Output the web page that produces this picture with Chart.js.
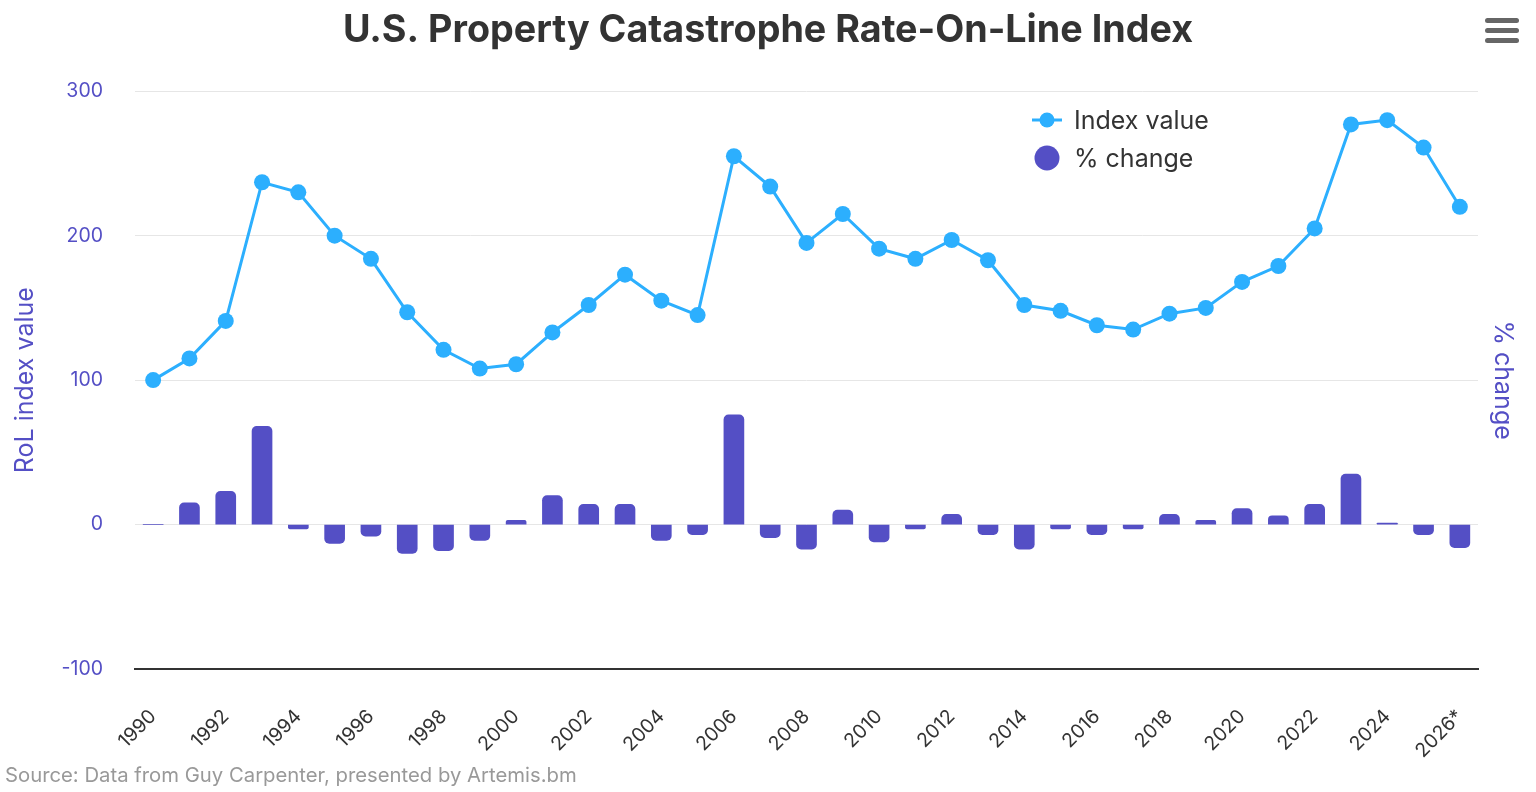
<!DOCTYPE html>
<html>
<head>
<meta charset="utf-8">
<script src="https://cdn.jsdelivr.net/npm/chart.js@4"></script>
<style>
  html, body { margin: 0; padding: 0; background: #fff; }
  #wrap { position: relative; width: 1536px; height: 792px; }
  #credit { position: absolute; left: 5px; top: 763px; font: 20.3px Inter, "Noto Sans", sans-serif; line-height: 24px; color: #999; white-space: nowrap; }
  #menu { position: absolute; left: 1485px; top: 18px; width: 34px; }
  #menu div { height: 5px; border-radius: 3px; background: #666; margin-bottom: 5px; }
</style>
</head>
<body>
<div id="wrap">
  <canvas id="c" width="1536" height="792"></canvas>
  <div id="credit">Source: Data from Guy Carpenter, presented by Artemis.bm</div>
  <div id="menu"><div></div><div></div><div></div></div>
</div>
<script>
const years = ['1990','1991','1992','1993','1994','1995','1996','1997','1998','1999','2000','2001','2002','2003','2004','2005','2006','2007','2008','2009','2010','2011','2012','2013','2014','2015','2016','2017','2018','2019','2020','2021','2022','2023','2024','2025','2026*'];
const indexValues = [100,115,141,237,230,200,184,147,121,108,111,133,152,173,155,145,255,234,195,215,191,184,197,183,152,148,138,135,146,150,168,179,205,277,280,261,220];
const pctChange = [0,15,23,68,-3,-13,-8,-20,-18,-11,3,20,14,14,-11,-7,76,-9,-17,10,-12,-3,7,-7,-17,-3,-7,-3,7,3,11,6,14,35,1,-7,-16];
const yTicks = [-100, 0, 100, 200, 300];

const LINE = '#2caffe';
const BAR = '#544fc5';
const AXIS = '#544fc5';
const FONT = 'Inter, "Noto Sans", sans-serif';

const legendPlugin = {
  id: 'customLegend',
  afterDraw(chart) {
    const ctx = chart.ctx;
    const ds = chart.data.datasets;
    ctx.save();
    ctx.font = '25px ' + FONT;
    ctx.textBaseline = 'middle';
    ctx.strokeStyle = LINE; ctx.lineWidth = 3;
    ctx.beginPath(); ctx.moveTo(1032, 120); ctx.lineTo(1062, 120); ctx.stroke();
    ctx.fillStyle = LINE;
    ctx.beginPath(); ctx.arc(1047, 120, 7.5, 0, Math.PI * 2); ctx.fill();
    ctx.fillStyle = '#333';
    ctx.fillText(ds[0].label, 1074, 121);
    ctx.fillStyle = BAR;
    ctx.beginPath(); ctx.arc(1047, 158, 12.5, 0, Math.PI * 2); ctx.fill();
    ctx.fillStyle = '#333';
    ctx.fillText(ds[1].label, 1074, 159);
    ctx.restore();
  }
};

new Chart(document.getElementById('c'), {
  data: {
    labels: years,
    datasets: [
      {
        type: 'line', label: 'Index value', data: indexValues, yAxisID: 'y',
        borderColor: LINE, backgroundColor: LINE, borderWidth: 3,
        pointRadius: 8, pointHoverRadius: 8, pointBackgroundColor: LINE, pointBorderWidth: 0,
        tension: 0, order: 0
      },
      {
        type: 'bar', label: '% change', data: pctChange, yAxisID: 'y',
        backgroundColor: BAR, barThickness: 20, borderRadius: 5, borderSkipped: 'start',
        order: 1
      }
    ]
  },
  options: {
    responsive: false,
    animation: false,
    layout: { padding: { top: 0, left: 0, right: 0, bottom: 30 } },
    plugins: {
      legend: { display: false },
      tooltip: { enabled: false },
      title: {
        display: true,
        text: 'U.S. Property Catastrophe Rate-On-Line Index',
        color: '#333',
        font: { family: FONT, size: 37.7, weight: 'bold' },
        padding: { top: 8, bottom: 38 }
      }
    },
    scales: {
      x: {
        type: 'category',
        offset: true,
        grid: { display: false, drawTicks: false },
        border: { display: true, color: '#333', width: 2 },
        ticks: {
          autoSkip: false, maxRotation: 45, minRotation: 45, padding: 36,
          color: '#333',
          font: { family: FONT, size: 19.5 },
          callback: function (v, i) { return i % 2 === 0 ? this.getLabelForValue(v) : ''; }
        },
        afterFit(s) { s.height = 93; }
      },
      y: {
        position: 'left',
        min: -100, max: 300,
        afterBuildTicks(s) { s.ticks = yTicks.map(v => ({ value: v })); },
        grid: { color: '#e6e6e6', lineWidth: 1, drawTicks: false },
        border: { display: false },
        ticks: { color: AXIS, padding: 32, font: { family: FONT, size: 19.5 } },
        title: {
          display: true, text: 'RoL index value', color: AXIS,
          font: { family: FONT, size: 25 },
          padding: { top: 10, bottom: 0 }
        },
        afterFit(s) { s.width = 135; }
      },
      y1: {
        position: 'right',
        min: -100, max: 300,
        grid: { display: false, drawTicks: false },
        border: { display: false },
        ticks: { display: false },
        title: {
          display: true, text: '% change', color: AXIS,
          font: { family: FONT, size: 25 },
          padding: { top: 18, bottom: 0 }
        },
        afterFit(s) { s.width = 58; }
      }
    }
  },
  plugins: [legendPlugin]
});
</script>
</body>
</html>
